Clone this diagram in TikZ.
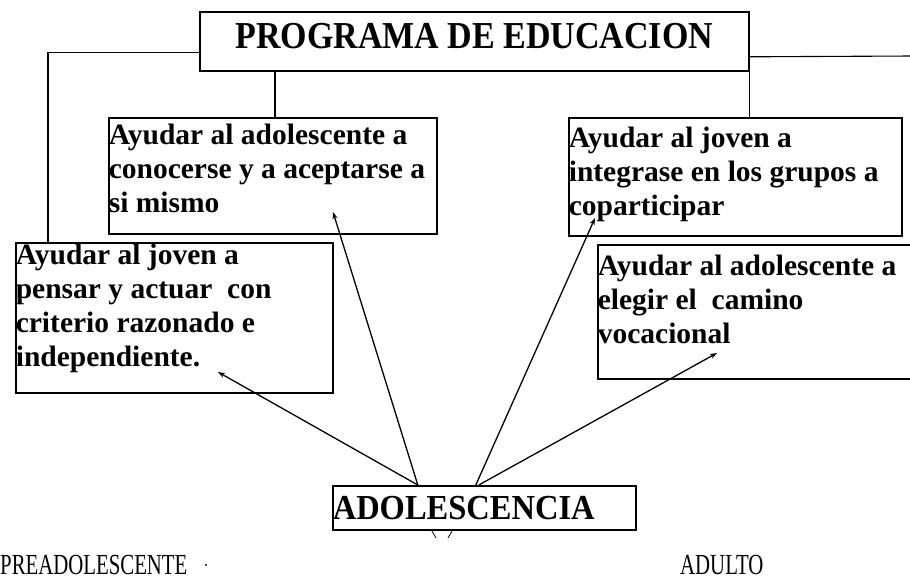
\documentclass[tikz,border=0pt]{standalone}
\usepackage{fontspec}
\setmainfont{Liberation Serif}
\usetikzlibrary{arrows.meta}
\newcommand\boxtext[4]{\parbox[t][#2][t]{#1}{\fontsize{29.5}{34}\selectfont\bfseries\raggedright\rule{0pt}{#3}#4}}
\begin{document}
\begin{tikzpicture}[x=1pt,y=-1pt,
  frame/.style={draw=black, line width=1.6pt, inner sep=0pt, anchor=north west},
  link/.style={draw=black, line width=1.1pt},
  arr/.style={draw=black, line width=1.3pt, -{Stealth[length=7pt,width=5pt]}},
  lowtxt/.style={inner sep=0pt, anchor=base west, font=\fontsize{26}{30}\selectfont}]
\useasboundingbox (0,0) rectangle (910,587);
\fill[white] (0,0) rectangle (910,587);
\clip (0,0) rectangle (910,587);

\node[frame, minimum width=549pt, minimum height=59pt, text depth=10pt,
      font=\fontsize{34}{40}\selectfont\bfseries] (prog) at (199,11) {\scalebox{1}[1.12]{PROGRAMA DE EDUCACION}};

\node[frame] (conoc) at (108,117)
  {\boxtext{328pt}{116pt}{27pt}{Ayudar al adolescente a\\conocerse y a aceptarse a\\si mismo}};
\node[frame] (pensar) at (15,242)
  {\boxtext{317pt}{150pt}{22pt}{Ayudar al joven a\\pensar y actuar\ \ con\\criterio razonado e\\independiente.}};
\node[frame] (integ) at (568,117)
  {\boxtext{333pt}{118pt}{30pt}{Ayudar al joven a\\integrase en los grupos a\\coparticipar}};
\node[frame] (elegir) at (597,244)
  {\boxtext{330pt}{134pt}{31pt}{Ayudar al adolescente a\\elegir el\ \ camino\\vocacional}};

\node[frame, minimum width=303pt, minimum height=44pt, text width=303pt, align=left,
      font=\fontsize{32.5}{38}\selectfont\bfseries] (adol) at (332,485) {\scalebox{1}[1.08]{ADOLESCENCIA}};

% tree connectors
\draw[link] ([yshift=-11pt]prog.west) -| ([xshift=33pt]pensar.north west);
\draw[link] ([xshift=167pt]conoc.north west |- prog.south) -- ([xshift=167pt]conoc.north west);
\draw[link] (prog.south east) -- (prog.south east |- integ.north);
\coordinate (redge) at (912,56);
\draw[link] ([yshift=-15.5pt]prog.east) -- (redge);

% arrows from ADOLESCENCIA
\coordinate (tA) at (218,372);
\coordinate (tB) at (333,212);
\coordinate (tC) at (595,218);
\coordinate (tD) at (717,353);
\draw[arr] ([xshift=-66.5pt]adol.north) -- (tA);
\draw[arr] ([xshift=-66.5pt]adol.north) -- (tB);
\draw[arr] ([xshift=-8.5pt]adol.north) -- (tC);
\draw[arr] ([xshift=-5.5pt]adol.north) -- (tD);

% small marks under the box
\draw[line width=0.8pt] (432,531) -- (436,538);
\draw[line width=0.8pt] (452,531) -- (448,538);

\node[lowtxt] (pre) at (0,574) {\scalebox{0.8}[1.12]{PREADOLESCENTE}};
\node[lowtxt] (adulto) at (680,574) {\scalebox{0.8}[1.12]{ADULTO}};
\fill (206,565) circle (1.1pt);
\end{tikzpicture}
\end{document}
